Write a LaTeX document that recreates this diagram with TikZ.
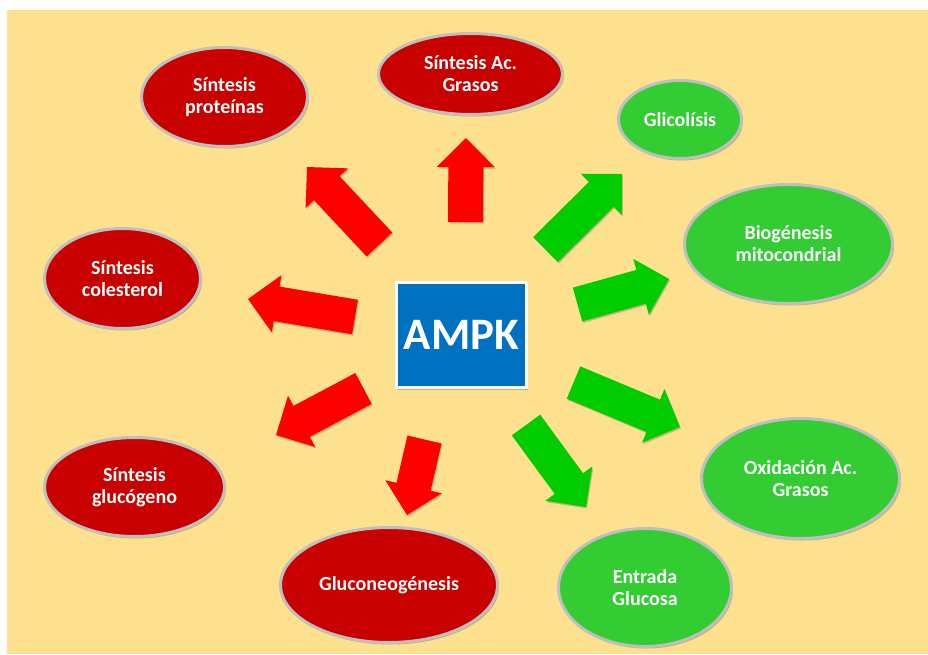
\documentclass[tikz,border=0pt]{standalone}
\usepackage{fontspec}
\setmainfont{Carlito}
\usetikzlibrary{shapes.geometric,calc,shadows}
\definecolor{bgyellow}{RGB}{254,225,142}
\definecolor{ellred}{RGB}{200,0,0}
\definecolor{ellgreen}{RGB}{51,204,51}
\definecolor{arrred}{RGB}{255,0,0}
\definecolor{arrgreen}{RGB}{0,204,0}
\definecolor{ampkblue}{RGB}{0,112,192}
\definecolor{ringgray}{RGB}{191,191,191}
\tikzset{
  oval/.style={ellipse, draw=ringgray, line width=3pt, inner sep=0pt,
    align=center, text=white, font=\bfseries\fontsize{20}{22}\selectfont,
    drop shadow={shadow xshift=1.5pt, shadow yshift=-2pt, opacity=0.35, fill=black!70}},
  redoval/.style={oval, fill=ellred},
  greenoval/.style={oval, fill=ellgreen},
  ampkbox/.style={rectangle, draw=white, line width=3pt, fill=ampkblue, inner sep=0pt,
    text=white, font=\bfseries\fontsize{45}{50}\selectfont,
    drop shadow={shadow xshift=1.5pt, shadow yshift=-2pt, opacity=0.35, fill=black!70}},
  blockred/.style={fill=arrred, drop shadow={shadow xshift=1pt, shadow yshift=-1.5pt, opacity=0.3, fill=black!70}},
  blockgreen/.style={fill=arrgreen, drop shadow={shadow xshift=1pt, shadow yshift=-1.5pt, opacity=0.3, fill=black!70}}
}
% block arrow: style, tail coordinate, tip coordinate
\newcommand\blockarrow[3]{%
  \coordinate (#3h) at ($(#3)!29pt!(#2)$);
  \path[#1] ($(#2)!17.5pt!-90:(#3)$) -- ($(#3h)!17.5pt!-90:(#3)$) -- ($(#3h)!29pt!-90:(#3)$)
    -- (#3) -- ($(#3h)!29pt!90:(#3)$) -- ($(#3h)!17.5pt!90:(#3)$) -- ($(#2)!17.5pt!90:(#3)$) -- cycle;
}
\begin{document}
\begin{tikzpicture}[x=1pt,y=-1pt]
\useasboundingbox (0,0) rectangle (928,654);
\fill[bgyellow] (7,10) rectangle (928,654);

% ellipses
\node[redoval, minimum width=166pt, minimum height=99pt] (prot) at (224.5,97) {Síntesis\\proteínas};
\node[redoval, minimum width=184pt, minimum height=81pt] (acg) at (470.5,74) {Síntesis Ac.\\Grasos};
\node[greenoval, minimum width=123pt, minimum height=78pt] (glic) at (680,119.5) {Glicolísis};
\node[greenoval, minimum width=208pt, minimum height=119pt] (biog) at (788.5,244) {Biogénesis\\mitocondrial};
\node[redoval, minimum width=156pt, minimum height=100pt] (col) at (122.5,278.5) {Síntesis\\colesterol};
\node[redoval, minimum width=180pt, minimum height=99pt] (gluc) at (134.5,487) {Síntesis\\glucógeno};
\node[redoval, minimum width=217pt, minimum height=115pt] (neo) at (389,585) {Gluconeogénesis};
\node[greenoval, minimum width=198pt, minimum height=120pt] (oxi) at (800.5,478.5) {Oxidación Ac.\\Grasos};
\node[greenoval, minimum width=173pt, minimum height=118pt] (ent) at (645,587.5) {Entrada\\Glucosa};

% center box
\node[ampkbox, minimum width=130pt, minimum height=105pt] (ampk) at (461.5,335) {AMPK};

% arrow end points
\coordinate (t1) at (379.5,244.5); \coordinate (p1) at (307,167);
\coordinate (t2) at (465.5,222);   \coordinate (p2) at (466,138);
\coordinate (t3) at (355,317);     \coordinate (p3) at (248,299);
\coordinate (t4) at (363.5,388.5); \coordinate (p4) at (276,435);
\coordinate (t5) at (424.5,439.5); \coordinate (p5) at (407,515);
\coordinate (t6) at (545.5,249.5); \coordinate (p6) at (622,174);
\coordinate (t7) at (577.5,304.5); \coordinate (p7) at (669,279);
\coordinate (t8) at (573.5,382.5); \coordinate (p8) at (680,427);
\coordinate (t9) at (526,425);     \coordinate (p9) at (586,507);

\blockarrow{blockred}{t1}{p1}
\blockarrow{blockred}{t2}{p2}
\blockarrow{blockred}{t3}{p3}
\blockarrow{blockred}{t4}{p4}
\blockarrow{blockred}{t5}{p5}
\blockarrow{blockgreen}{t6}{p6}
\blockarrow{blockgreen}{t7}{p7}
\blockarrow{blockgreen}{t8}{p8}
\blockarrow{blockgreen}{t9}{p9}
\end{tikzpicture}
\end{document}
